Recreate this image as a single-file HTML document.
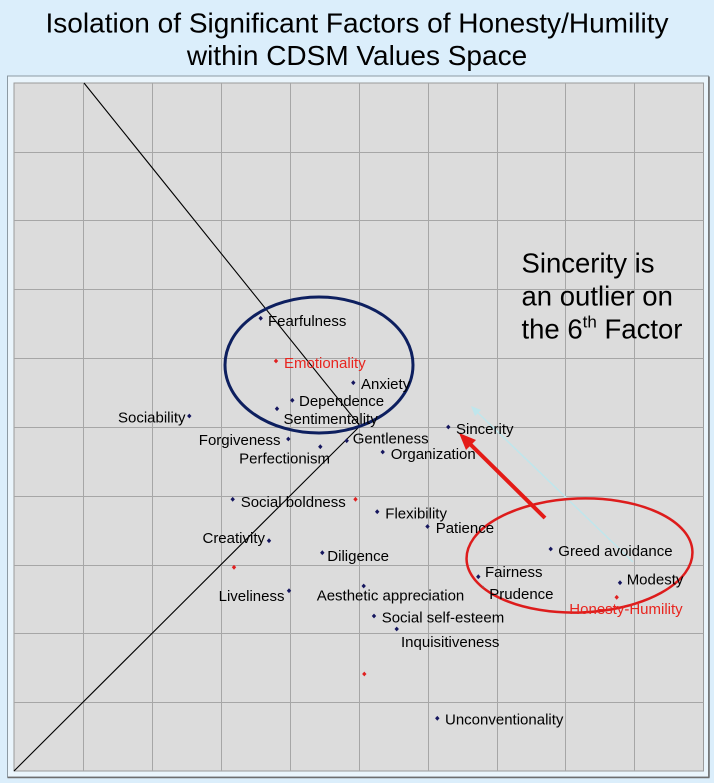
<!DOCTYPE html>
<html>
<head>
<meta charset="utf-8">
<style>
  html,body{margin:0;padding:0;background:#dbeefb;}
  svg{display:block;}
  text{font-family:"Liberation Sans", Arial, sans-serif;}
</style>
</head>
<body>
<svg width="714" height="783" viewBox="0 0 714 783" xmlns="http://www.w3.org/2000/svg">
  <defs>
    <symbol id="d" overflow="visible"><polygon points="0,-2.4 2.2,0 0,2.4 -2.2,0"/></symbol>
  </defs>
  <rect x="0" y="0" width="714" height="783" fill="#dbeefb"/>
  <!-- Title -->
  <text x="357" y="32.3" font-size="28" text-anchor="middle" textLength="623" lengthAdjust="spacingAndGlyphs" fill="#000">Isolation of Significant Factors of Honesty/Humility</text>
  <text x="357" y="65" font-size="28" text-anchor="middle" fill="#000">within CDSM Values Space</text>

  <!-- outer frame -->
  <rect x="7.5" y="76" width="701" height="701" fill="#eaf5fc" stroke="#8c9aa3" stroke-width="1"/>
  <line x1="709" y1="76.5" x2="709" y2="777.5" stroke="#6e6e6e" stroke-width="1.5"/>
  <line x1="7.5" y1="777.5" x2="709.5" y2="777.5" stroke="#6e6e6e" stroke-width="1.5"/>

  <!-- plot area -->
  <rect x="14" y="83" width="689.5" height="688" fill="#dcdcdc" stroke="#9a9a9a" stroke-width="1"/>
  <g stroke="#a6a6a6" stroke-width="1">
    <line x1="83.5" y1="83" x2="83.5" y2="771"/>
    <line x1="152.5" y1="83" x2="152.5" y2="771"/>
    <line x1="221.5" y1="83" x2="221.5" y2="771"/>
    <line x1="290.5" y1="83" x2="290.5" y2="771"/>
    <line x1="359.5" y1="83" x2="359.5" y2="771"/>
    <line x1="428.5" y1="83" x2="428.5" y2="771"/>
    <line x1="497.5" y1="83" x2="497.5" y2="771"/>
    <line x1="565.5" y1="83" x2="565.5" y2="771"/>
    <line x1="634.5" y1="83" x2="634.5" y2="771"/>
    <line x1="14" y1="152.5" x2="703.5" y2="152.5"/>
    <line x1="14" y1="220.5" x2="703.5" y2="220.5"/>
    <line x1="14" y1="289.5" x2="703.5" y2="289.5"/>
    <line x1="14" y1="358.5" x2="703.5" y2="358.5"/>
    <line x1="14" y1="427.5" x2="703.5" y2="427.5"/>
    <line x1="14" y1="496.5" x2="703.5" y2="496.5"/>
    <line x1="14" y1="565.5" x2="703.5" y2="565.5"/>
    <line x1="14" y1="633.5" x2="703.5" y2="633.5"/>
    <line x1="14" y1="702.5" x2="703.5" y2="702.5"/>
  </g>

  <!-- diagonal lines -->
  <polyline points="84,83 360,426 14,771" fill="none" stroke="#000" stroke-width="1.1"/>

  <!-- cyan faint arrow -->
  <line x1="633" y1="562" x2="474" y2="409" stroke="#bfe6ec" stroke-width="1.5"/>
  <polygon points="471,406 481,410 475,416" fill="#bfe6ec"/>

  <!-- ellipses -->
  <ellipse cx="319" cy="365" rx="94" ry="68" fill="none" stroke="#0d1f5f" stroke-width="3"/>
  <ellipse cx="579.5" cy="555.5" rx="113" ry="57" fill="none" stroke="#dd1c1c" stroke-width="2.5" transform="rotate(-2 579.5 555.5)"/>

  <!-- red arrow -->
  <line x1="545" y1="518" x2="468" y2="442" stroke="#e41b17" stroke-width="4"/>
  <polygon points="459,433 476,440 466,450" fill="#e41b17"/>

  <!-- points -->
  <g fill="#15165e">
    <use href="#d" x="260.7" y="318.3"/>
    <use href="#d" x="353.3" y="382.7"/>
    <use href="#d" x="292.3" y="400.3"/>
    <use href="#d" x="277" y="408.7"/>
    <use href="#d" x="189.3" y="416"/>
    <use href="#d" x="288.3" y="439"/>
    <use href="#d" x="320.3" y="446.7"/>
    <use href="#d" x="346.7" y="440.7"/>
    <use href="#d" x="382.7" y="452"/>
    <use href="#d" x="448.3" y="427"/>
    <use href="#d" x="232.7" y="499.3"/>
    <use href="#d" x="377.2" y="511.7"/>
    <use href="#d" x="427.5" y="526.5"/>
    <use href="#d" x="269" y="540.7"/>
    <use href="#d" x="322.3" y="552.7"/>
    <use href="#d" x="289" y="590.7"/>
    <use href="#d" x="363.7" y="586"/>
    <use href="#d" x="374" y="616"/>
    <use href="#d" x="396.7" y="629"/>
    <use href="#d" x="550.7" y="549"/>
    <use href="#d" x="478.3" y="576.7"/>
    <use href="#d" x="620" y="582.7"/>
    <use href="#d" x="437.3" y="718.3"/>
  </g>
  <g fill="#e02020">
    <use href="#d" x="276" y="361"/>
    <use href="#d" x="355.5" y="499.3"/>
    <use href="#d" x="234" y="567.3"/>
    <use href="#d" x="616.7" y="597.3"/>
    <use href="#d" x="364.3" y="674"/>
  </g>
  <polygon points="483.3,585.7 484.2,586.7 483.3,587.7 482.4,586.7" fill="#777"/>

  <!-- labels -->
  <g font-size="15" fill="#000">
    <text x="268" y="326">Fearfulness</text>
    <text x="284" y="368" fill="#e8251f">Emotionality</text>
    <text x="361" y="389">Anxiety</text>
    <text x="299" y="406">Dependence</text>
    <text x="283.5" y="424">Sentimentality</text>
    <text x="185.5" y="422.5" text-anchor="end">Sociability</text>
    <text x="280.5" y="445" text-anchor="end">Forgiveness</text>
    <text x="330" y="463.5" text-anchor="end">Perfectionism</text>
    <text x="352.7" y="443.5">Gentleness</text>
    <text x="390.7" y="459">Organization</text>
    <text x="456" y="434">Sincerity</text>
    <text x="240.7" y="507">Social boldness</text>
    <text x="385.3" y="518.5">Flexibility</text>
    <text x="435.7" y="533">Patience</text>
    <text x="265" y="543" text-anchor="end">Creativity</text>
    <text x="327.3" y="561">Diligence</text>
    <text x="284.5" y="601" text-anchor="end">Liveliness</text>
    <text x="316.7" y="600.5">Aesthetic appreciation</text>
    <text x="381.7" y="622.5">Social self-esteem</text>
    <text x="401" y="647">Inquisitiveness</text>
    <text x="558.3" y="556">Greed avoidance</text>
    <text x="485" y="577">Fairness</text>
    <text x="489.3" y="599">Prudence</text>
    <text x="626.7" y="584.5">Modesty</text>
    <text x="569.3" y="614" fill="#e8251f">Honesty-Humility</text>
    <text x="445" y="724.5">Unconventionality</text>
  </g>

  <!-- annotation -->
  <g font-size="27.5" fill="#000">
    <text x="521.5" y="272.3">Sincerity is</text>
    <text x="521.5" y="305.5">an outlier on</text>
    <text x="521.5" y="338.5">the 6<tspan font-size="17" dy="-11">th</tspan><tspan dy="11"> Factor</tspan></text>
  </g>
</svg>
</body>
</html>
